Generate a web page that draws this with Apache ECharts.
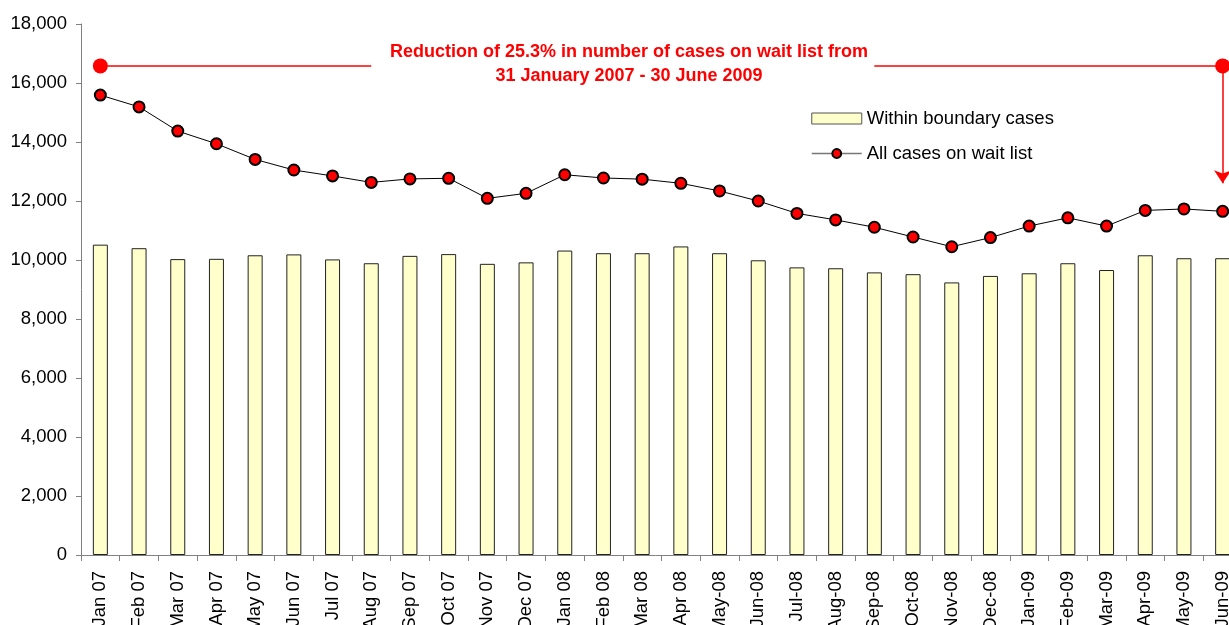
<!DOCTYPE html>
<html lang="en" style="width: 100%;height: 100%;">
<head>
    <meta charset="UTF-8">
    <title>Wait list cases</title>
    <script type="text/javascript" src="https://cdn.jsdelivr.net/npm/echarts@6/dist/echarts.min.js"></script>
    <style>
        body{
            width:100%;
            height:100%;
            margin: 0;
            background: #fff;
        }
        #main{
            width: 1229px;
            height: 625px;
        }
    </style>
</head>
<body>
<div id="main"></div>
<script>
    // 月份
    let months = ['Jan 07','Feb 07','Mar 07','Apr 07','May 07','Jun 07','Jul 07','Aug 07','Sep 07','Oct 07',
        'Nov 07','Dec 07','Jan 08','Feb 08','Mar 08','Apr 08','May-08','Jun-08','Jul-08','Aug-08',
        'Sep-08','Oct-08','Nov-08','Dec-08','Jan-09','Feb-09','Mar-09','Apr-09','May-09','Jun-09'];
    // Within boundary cases
    let withinBoundary = [10520,10400,10030,10040,10160,10190,10020,9890,10140,10200,
        9870,9920,10320,10230,10230,10460,10230,9990,9750,9720,
        9580,9520,9240,9460,9550,9890,9660,10160,10060,10060];
    // All cases on wait list
    let allCases = [15590,15190,14370,13940,13410,13050,12850,12630,12750,12770,
        12090,12260,12890,12780,12740,12600,12340,12000,11580,11360,
        11110,10780,10450,10760,11150,11430,11150,11680,11730,11650];
    // 注释线的高度和箭头终点
    let noteLevel = 16580;
    let arrowEnd = 12600;

    let chart = echarts.init(document.getElementById('main'));
    let font = 'Arial, "Liberation Sans", sans-serif';

    let option = {
        backgroundColor: '#fff',
        animation: false,
        textStyle: { fontFamily: font },
        grid: {
            left: 81,
            top: 24,
            bottom: 70,
            width: 1161,
            outerBoundsMode: 'none',
            containLabel: false
        },
        legend: {
            orient: 'vertical',
            left: 806,
            top: 104,
            itemWidth: 50,
            itemHeight: 11,
            itemGap: 16,
            textStyle: { fontSize: 18.5, color: '#000', fontFamily: font },
            data: [
                { name: 'Within boundary cases', icon: 'rect',
                  itemStyle: { color: '#ffffcc', borderColor: '#555', borderWidth: 1 } },
                { name: 'All cases on wait list',
                  itemStyle: { color: '#ff0000', borderColor: '#000', borderWidth: 2 },
                  lineStyle: { color: '#777', width: 1.5 } }
            ]
        },
        xAxis: {
            type: 'category',
            data: months,
            axisLine: { lineStyle: { color: '#808080', width: 1 } },
            axisTick: { show: true, length: 6, lineStyle: { color: '#808080' } },
            axisLabel: {
                rotate: 90,
                interval: 0,
                margin: 16,
                fontSize: 18.5,
                color: '#000',
                fontFamily: font
            }
        },
        yAxis: {
            type: 'value',
            min: 0,
            max: 18000,
            interval: 2000,
            axisLine: { show: true, lineStyle: { color: '#808080', width: 1 } },
            axisTick: { show: true, length: 5, lineStyle: { color: '#808080' } },
            splitLine: { show: false },
            axisLabel: {
                fontSize: 18.5,
                color: '#000',
                margin: 14,
                fontFamily: font,
                formatter: function (v) {
                    return v.toLocaleString('en-US');
                }
            }
        },
        series: [
            {
                name: 'Within boundary cases',
                type: 'bar',
                barWidth: 15,
                data: withinBoundary,
                itemStyle: {
                    color: '#ffffcc',
                    borderColor: '#222',
                    borderWidth: 1
                }
            },
            {
                name: 'All cases on wait list',
                type: 'line',
                data: allCases,
                symbol: 'circle',
                symbolSize: 11,
                lineStyle: { color: '#000', width: 1 },
                itemStyle: { color: '#ff0000', borderColor: '#000', borderWidth: 2 },
                z: 3,
                markLine: {
                    silent: true,
                    animation: false,
                    label: { show: false },
                    lineStyle: { color: '#ff0000', width: 1.5, type: 'solid' },
                    symbolSize: 15,
                    data: [
                        [
                            { coord: [months[0], noteLevel], symbol: 'circle', symbolSize: 15 },
                            { coord: [months[7], noteLevel], symbol: 'none' }
                        ],
                        [
                            { coord: [months[20], noteLevel], symbol: 'none' },
                            { coord: [months[29], noteLevel], symbol: 'circle', symbolSize: 15 }
                        ],
                        [
                            { coord: [months[29], noteLevel], symbol: 'none' },
                            { coord: [months[29], arrowEnd], symbol: 'arrow', symbolSize: 13 }
                        ]
                    ]
                }
            }
        ],
        graphic: [
            {
                type: 'text',
                x: 629,
                y: 40,
                style: {
                    text: 'Reduction of 25.3% in number of cases on wait list from\n31 January 2007 - 30 June 2009',
                    align: 'center',
                    fill: '#ff0000',
                    font: 'bold 18px Arial, "Liberation Sans", sans-serif',
                    lineHeight: 24
                }
            }
        ]
    };

    option && chart.setOption(option);
</script>
</body>
</html>
